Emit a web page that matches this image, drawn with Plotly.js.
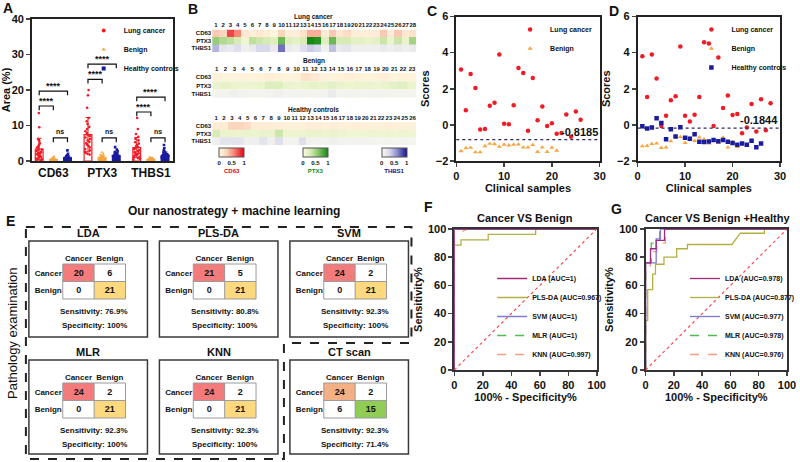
<!DOCTYPE html>
<html><head><meta charset="utf-8">
<script src="https://cdn.plot.ly/plotly-3.0.1.min.js"></script>
<style>html,body{margin:0;padding:0;background:#fff}</style>
</head><body><div id="chart" style="width:800px;height:462px"></div>
<script>
// ================= DATA =================
const markerNames = ['CD63', 'PTX3', 'THBS1'];
const groupNames = ['Lung cancer', 'Benign', 'Healthy controls'];
const lungCD63 = [13.5,9.5,6.2,5.9,5.6,5.0,4.6,4.2,3.8,3.5,3.2,3.0,2.8,2.5,2.3,2.1,1.9,1.7,1.5,1.3,1.1,0.9,0.7,0.5,0.4,0.2];
const lungPTX3 = [20.0,18.5,15.0,12.1,11.2,10.4,9.6,9.0,8.4,7.9,7.4,7.0,6.6,6.2,5.8,5.4,5.0,4.6,4.2,3.8,3.4,3.0,2.6,2.3,2.0,1.8];
const lungTHBS1 = [12.1,9.0,7.6,6.8,6.2,5.8,5.3,4.9,4.5,4.2,3.9,3.6,3.3,3.0,2.8,2.5,2.2,2.0,1.8,1.6,1.4,1.2,1.0,0.8,0.6,0.4];
const benignCD63 = [1.3,1.0,0.9,0.8,0.7,0.6,0.6,0.5,0.5,0.4,0.4,0.4,0.3,0.3,0.3,0.2,0.2,0.2,0.1,0.1,0.1];
const benignPTX3 = [2.5,2.1,1.8,1.6,1.4,1.3,1.2,1.1,1.0,0.9,0.9,0.8,0.8,0.7,0.6,0.6,0.5,0.4,0.4,0.3,0.2];
const benignTHBS1 = [1.2,1.0,0.9,0.8,0.7,0.6,0.6,0.5,0.5,0.5,0.4,0.4,0.4,0.3,0.3,0.3,0.2,0.2,0.2,0.1,0.1];
const healthyCD63 = [3.0,2.0,1.6,1.4,1.3,1.2,1.1,1.0,1.0,0.9,0.9,0.8,0.8,0.7,0.7,0.7,0.6,0.6,0.6,0.5,0.5,0.5,0.4,0.4,0.3,0.3,0.2,0.2];
const healthyPTX3 = [3.9,3.2,2.8,2.5,2.2,2.0,1.9,1.8,1.7,1.6,1.5,1.5,1.4,1.4,1.3,1.3,1.2,1.2,1.1,1.1,1.0,1.0,0.9,0.8,0.7,0.6,0.5,0.4];
const healthyTHBS1 = [4.5,3.6,3.0,2.6,2.4,2.2,2.0,1.9,1.8,1.7,1.6,1.5,1.4,1.3,1.2,1.2,1.1,1.0,1.0,0.9,0.8,0.8,0.7,0.6,0.5,0.5,0.4,0.3];
const sigLabels = ['****', '****', 'ns'];
const sigPairs = [[0, 1], [0, 2], [1, 2]];
const sigHeights = [[15.5, 19.7, 6.5], [23.0, 27.3, 6.5], [13.8, 18.0, 6.5]];

const lungHeatCD63 = [0.35,0.3,0.8,0.6,0.15,0.1,0.15,0.1,0.05,0.3,0.1,0.1,0.2,0.45,0.45,0.1,0.35,0.15,0.25,0.1,0.1,0.1,0.1,0.35,0.1,0.35,0.15,0.2];
const lungHeatPTX3 = [0.55,0.45,0.4,0.3,0.1,0.4,0.35,0.3,0.25,0.7,0.25,0.2,0.3,1.0,0.95,0.25,0.7,0.3,0.3,0.2,0.2,0.15,0.2,0.35,0.15,0.35,0.15,0.5];
const lungHeatTHBS1 = [0.45,0.2,0.15,0.25,0.1,0.15,0.3,0.3,0.15,0.7,0.15,0.1,0.25,0.35,0.3,0.1,0.4,0.15,0.2,0.1,0.1,0.1,0.1,0.15,0.1,0.15,0.1,0.15];
const benignHeatCD63 = [0.08,0.06,0.06,0.08,0.06,0.08,0.1,0.08,0.06,0.08,0.2,0.15,0.08,0.06,0.08,0.1,0.08,0.06,0.08,0.1,0.06,0.08,0.06];
const benignHeatPTX3 = [0.15,0.18,0.15,0.12,0.12,0.15,0.25,0.25,0.15,0.12,0.15,0.18,0.15,0.2,0.15,0.12,0.15,0.15,0.12,0.15,0.2,0.22,0.15];
const benignHeatTHBS1 = [0.08,0.06,0.1,0.08,0.06,0.06,0.08,0.1,0.06,0.08,0.06,0.06,0.08,0.15,0.06,0.08,0.06,0.06,0.08,0.06,0.06,0.06,0.06];
const healthyHeatCD63 = [0.12,0.12,0.3,0.3,0.25,0.1,0.12,0.1,0.1,0.08,0.08,0.08,0.1,0.1,0.08,0.1,0.08,0.08,0.1,0.08,0.08,0.08,0.1,0.08,0.08,0.08];
const healthyHeatPTX3 = [0.3,0.15,0.15,0.12,0.15,0.12,0.15,0.15,0.35,0.12,0.12,0.12,0.15,0.15,0.12,0.15,0.12,0.1,0.1,0.1,0.12,0.1,0.12,0.1,0.12,0.1];
const healthyHeatTHBS1 = [0.1,0.2,0.2,0.2,0.1,0.1,0.2,0.1,0.25,0.08,0.08,0.25,0.08,0.08,0.08,0.1,0.08,0.08,0.08,0.08,0.06,0.06,0.06,0.06,0.06,0.06];
const heatTitles = ['Lung cancer', 'Benign', 'Healthy controls'];

const cLungScores = [3.06,0.81,2.81,2.04,-0.25,-0.23,1.06,1.23,3.9,0.06,0.04,1.09,3.15,2.87,-0.32,2.6,0.25,1.02,-0.06,0.09,-0.49,-0.45,0.57,-0.66,0.74,0.28];
const cBenignScores = [-1.45,-1.28,-1.26,-1.51,-1.51,-1.17,-1.04,-1.06,-1.21,-1.09,-1.13,-1.09,-1.08,-1.25,-1.25,-1.11,-1.49,-1.25,-1.49,-1.26,-1.42];
const cThreshold = -0.8185;
const dLungScores = [3.8,1.55,3.9,2.57,-0.06,0.51,1.37,1.59,4.34,0.51,0.19,0.56,1.55,4.57,4.51,-0.06,3.73,0.94,1.63,0.54,0.6,-0.47,-0.15,1.16,-0.36,1.42,-0.3,1.2];
const dBenignScores = [-1.18,-1.16,-1.05,-1.03,-1.27,-1.24,-0.9,-0.66,-0.67,-0.99,-0.73,-0.88,-0.69,-0.8,-1.03,-0.88,-0.99,-0.71,-1.25,-0.95,-1.22];
const dHealthyScores = [-0.08,-0.2,-0.15,0.36,0.1,-0.8,-0.24,-0.64,-0.13,-0.71,-0.77,-0.52,-0.94,-0.95,-0.92,-0.84,-0.9,-0.84,-0.94,-1.01,-1.1,-1.03,-1.1,-0.88,-1.24,-1.03];
const dThreshold = -0.1844;

const models = ['LDA', 'PLS-DA', 'SVM', 'MLR', 'KNN', 'CT scan'];
const truePos = [20, 21, 24, 24, 24, 24];
const falseNeg = [6, 5, 2, 2, 2, 2];
const falsePos = [0, 0, 0, 0, 0, 6];
const trueNeg = [21, 21, 21, 21, 21, 15];
const classLabels = ['Cancer', 'Benign'];

const rocNames = ['LDA', 'PLS-DA', 'SVM', 'MLR', 'KNN'];
const fAUC = ['1', '0.967', '1', '1', '0.997'];
const gAUC = ['0.978', '0.877', '0.977', '0.978', '0.976'];
const fLDAx = [0,0,100], fLDAy = [0,100,100];
const fPLSx = [0,0,4.7,4.7,23.8,23.8,57.1,57.1,100], fPLSy = [0,88.5,88.5,92.3,92.3,96.2,96.2,100,100];
const fSVMx = [0,0,100], fSVMy = [0,100,100];
const fMLRx = [0,0,100], fMLRy = [0,100,100];
const fKNNx = [0,0,9.5,100], fKNNy = [0,96,100,100];
const gLDAx = [0,0,3.5,3.5,7.5,7.5,13.4,13.4,100], gLDAy = [0,76,76,86,86,92,92,100,100];
const gPLSx = [0,0,1.5,1.5,5,5,7,7,13,13,22,22,29.6,29.6,61,67,84,84,100], gPLSy = [0,35,35,57,57,68,68,75,75,80,80,86,86,89,89,97,97,100,100];
const gSVMx = [0,0,7.5,7.5,10.5,10.5,100], gSVMy = [0,76,76,93,93,100,100];
const gMLRx = [0,0,4,4,10,10,100], gMLRy = [0,76,76,90,90,100,100];
const gKNNx = [0,0,3.5,3.5,8,8,14,14,100], gKNNy = [0,74,74,84,84,90,90,100,100];

// ================= HELPERS / STYLE =================
const W = 800, H = 462;
const X = p => p / W;
const Y = p => 1 - p / H;
const FONT = 'Liberation Sans, Arial, Helvetica, sans-serif';
const groupColors = ['#ee1c25', '#f7a541', '#1b1b9e'];
const groupSymbols = ['circle', 'triangle-up', 'square'];
const rocColors = ['#a3287c', '#b3b043', '#7b7bd2', '#4dbb4d', '#f2a27f'];
const heatScales = [
  [[0,'#fffbe4'],[0.3,'#fcd5bd'],[0.6,'#f88676'],[1,'#e6001a']],
  [[0,'#fbfbe2'],[0.3,'#d8ebb6'],[0.6,'#8cc66c'],[1,'#148a14']],
  [[0,'#fbfbef'],[0.3,'#d8d8ec'],[0.6,'#8f8fcc'],[1,'#111190']]
];
const cbTitleColors = ['#e6001a', '#148a14', '#111190'];
const mean = a => a.reduce((s, v) => s + v, 0) / a.length;
const sdev = a => { const m = mean(a); return Math.sqrt(a.reduce((s, v) => s + (v - m) * (v - m), 0) / (a.length - 1)); };
const idx = a => a.map((_, i) => i + 1);
const label = (x, y, text, size, extra) => Object.assign({xref: 'paper', yref: 'paper', x: X(x), y: Y(y), text: text,
  xanchor: 'center', yanchor: 'middle', showarrow: false, font: {size: size, weight: 'bold'}}, extra || {});

const traces = [];
const shapes = [];
const annotations = [];
const layout = {
  width: W, height: H, margin: {l: 0, r: 0, t: 0, b: 0},
  paper_bgcolor: '#fff', plot_bgcolor: 'rgba(0,0,0,0)',
  font: {family: FONT, size: 10, color: '#111', weight: 'bold'},
  hovermode: false, showlegend: true,
  barmode: 'group', bargap: 0.13, bargroupgap: 0.45,
  boxmode: 'group', boxgap: 0.13, boxgroupgap: 0.45
};

// ================= PANEL A =================
const groupPts = [
  [lungCD63, lungPTX3, lungTHBS1],
  [benignCD63, benignPTX3, benignTHBS1],
  [healthyCD63, healthyPTX3, healthyTHBS1]
];
groupNames.forEach((g, gi) => {
  traces.push({
    type: 'bar', x: markerNames, y: groupPts[gi].map(mean), xaxis: 'x', yaxis: 'y', showlegend: false,
    marker: {color: gi === 0 ? 'rgba(255,255,255,0)' : groupColors[gi], line: {color: groupColors[gi], width: 1.2}},
    error_y: {type: 'data', array: groupPts[gi].map(sdev), color: groupColors[gi], thickness: 1, width: 2.5}
  });
});
groupNames.forEach((g, gi) => {
  traces.push({
    type: 'box', xaxis: 'x', yaxis: 'y', showlegend: false, name: g,
    x: markerNames.flatMap((m, mi) => groupPts[gi][mi].map(() => m)),
    y: groupPts[gi].flat(),
    boxpoints: 'all', jitter: 0.9, pointpos: 0, whiskerwidth: 0,
    fillcolor: 'rgba(0,0,0,0)', line: {width: 0, color: 'rgba(0,0,0,0)'},
    marker: {color: groupColors[gi], symbol: groupSymbols[gi], size: 2.6}
  });
});
groupNames.forEach((g, gi) => {
  traces.push({type: 'scatter', mode: 'markers', x: [null], y: [null], name: g, xaxis: 'x', yaxis: 'y', legend: 'legend',
    marker: {color: groupColors[gi], symbol: groupSymbols[gi], size: 4}});
});
const axLine = {showline: true, linecolor: '#222', linewidth: 1.8, mirror: true, showgrid: false, zeroline: false};
layout.xaxis = Object.assign({}, axLine, {domain: [X(32), X(174)], anchor: 'y', type: 'category', range: [-0.44, 2.46],
  ticks: '', tickfont: {size: 12, weight: 'bold'}});
layout.yaxis = Object.assign({}, axLine, {domain: [Y(161), Y(19)], anchor: 'x', range: [0, 40], dtick: 10,
  ticks: 'outside', ticklen: 4, tickwidth: 1.5, tickfont: {size: 11, weight: 'bold'},
  title: {text: 'Area (%)', font: {size: 11, weight: 'bold'}, standoff: 4}});
layout.legend = {x: X(84), y: Y(16), xanchor: 'left', yanchor: 'top', bgcolor: 'rgba(0,0,0,0)',
  font: {size: 7, weight: 'bold'}, itemwidth: 30, tracegroupgap: 0};
const slot = (1 - layout.bargap) / 3;
markerNames.forEach((m, mi) => {
  sigPairs.forEach((p, pi) => {
    const x1 = mi + (p[0] - 1) * slot, x2 = mi + (p[1] - 1) * slot, h = sigHeights[mi][pi];
    shapes.push({type: 'path', xref: 'x', yref: 'y', path: `M ${x1},${h - 1.2} L ${x1},${h} L ${x2},${h} L ${x2},${h - 1.2}`,
      line: {color: '#111', width: 1.2}});
    annotations.push({xref: 'x', yref: 'y', x: (x1 + x2) / 2, y: h, xanchor: 'center', yanchor: 'bottom', showarrow: false,
      text: sigLabels[pi], font: {size: sigLabels[pi] === 'ns' ? 7 : 9, weight: 'bold'}, yshift: sigLabels[pi] === 'ns' ? 1 : -2});
  });
});

// ================= PANEL B =================
const heatRows = [
  [lungHeatCD63, lungHeatPTX3, lungHeatTHBS1],
  [benignHeatCD63, benignHeatPTX3, benignHeatTHBS1],
  [healthyHeatCD63, healthyHeatPTX3, healthyHeatTHBS1]
];
const heatTop = [29.5, 73, 122], heatBot = [52, 98, 145];
const cbLeft = [220, 304, 383];
heatRows.forEach((rows, si) => {
  const ax = si + 2;
  rows.forEach((vals, ri) => {
    const t = {type: 'heatmap', x: idx(vals), y: [ri], z: [vals], zmin: 0, zmax: 1,
      colorscale: heatScales[ri], xaxis: 'x' + ax, yaxis: 'y' + ax, showscale: si === 0, showlegend: false};
    if (si === 0) {
      t.colorbar = {orientation: 'h', x: X(cbLeft[ri]), xanchor: 'left', y: Y(148), yanchor: 'top',
        len: 25, lenmode: 'pixels', thickness: 9, thicknessmode: 'pixels', xpad: 0, ypad: 0,
        outlinewidth: 1, outlinecolor: '#555', tickvals: [0, 0.5, 1], ticktext: ['0', '0.5', '1'], ticks: '',
        tickfont: {size: 6, weight: 'bold'},
        title: {text: markerNames[ri], side: 'bottom', font: {size: 6, color: cbTitleColors[ri], weight: 'bold'}}};
    }
    traces.push(t);
  });
  const n = rows[0].length;
  layout['xaxis' + ax] = {domain: [X(213), X(418)], anchor: 'y' + ax, side: 'top', range: [0.5, n + 0.5],
    tickmode: 'array', tickvals: idx(rows[0]), ticks: '', tickangle: 0, showgrid: false, zeroline: false,
    tickfont: {size: 6, weight: 'bold'}};
  layout['yaxis' + ax] = {domain: [Y(heatBot[si]), Y(heatTop[si])], anchor: 'x' + ax, range: [2.5, -0.5],
    tickmode: 'array', tickvals: [0, 1, 2], ticktext: markerNames, ticks: '', showgrid: false, zeroline: false,
    tickfont: {size: 6, weight: 'bold'}};
  annotations.push(label(315, heatTop[si] - 12, heatTitles[si], 6.5));
});

// ================= PANEL C & D =================
const scoreAxis = (dom, anchor) => Object.assign({}, axLine, {domain: dom, anchor: anchor,
  ticks: 'outside', ticklen: 4, tickwidth: 1.5, tickfont: {size: 11, weight: 'bold'}});
traces.push({type: 'scatter', mode: 'markers', x: idx(cLungScores), y: cLungScores, name: 'Lung cancer', xaxis: 'x5', yaxis: 'y5',
  legend: 'legend2', marker: {color: groupColors[0], symbol: 'circle', size: 4.5}});
traces.push({type: 'scatter', mode: 'markers', x: idx(cBenignScores), y: cBenignScores, name: 'Benign', xaxis: 'x5', yaxis: 'y5',
  legend: 'legend2', marker: {color: groupColors[1], symbol: 'triangle-up', size: 4.5}});
layout.xaxis5 = Object.assign(scoreAxis([X(458), X(602)], 'y5'), {range: [0, 30], dtick: 10,
  title: {text: 'Clinical samples', font: {size: 11, weight: 'bold'}, standoff: 2}});
layout.yaxis5 = Object.assign(scoreAxis([Y(161), Y(16.5)], 'x5'), {range: [-2, 6], dtick: 2,
  title: {text: 'Scores', font: {size: 11, weight: 'bold'}, standoff: 4}});
traces.push({type: 'scatter', mode: 'markers', x: idx(dLungScores), y: dLungScores, name: 'Lung cancer', xaxis: 'x6', yaxis: 'y6',
  legend: 'legend3', marker: {color: groupColors[0], symbol: 'circle', size: 4.5}});
traces.push({type: 'scatter', mode: 'markers', x: idx(dBenignScores), y: dBenignScores, name: 'Benign', xaxis: 'x6', yaxis: 'y6',
  legend: 'legend3', marker: {color: groupColors[1], symbol: 'triangle-up', size: 4.5}});
traces.push({type: 'scatter', mode: 'markers', x: idx(dHealthyScores), y: dHealthyScores, name: 'Healthy controls', xaxis: 'x6', yaxis: 'y6',
  legend: 'legend3', marker: {color: groupColors[2], symbol: 'square', size: 4.5}});
layout.xaxis6 = Object.assign(scoreAxis([X(640), X(783)], 'y6'), {range: [0, 30], dtick: 10,
  title: {text: 'Clinical samples', font: {size: 11, weight: 'bold'}, standoff: 2}});
layout.yaxis6 = Object.assign(scoreAxis([Y(161), Y(16.5)], 'x6'), {range: [-2, 6], dtick: 2,
  title: {text: 'Scores', font: {size: 11, weight: 'bold'}, standoff: 4}});
[[cThreshold, 5], [dThreshold, 6]].forEach(([thr, k]) => {
  shapes.push({type: 'line', xref: 'x' + k + ' domain', yref: 'y' + k, x0: 0, x1: 1, y0: thr, y1: thr,
    line: {color: '#2a2a66', width: 1.2, dash: 'dot'}});
  annotations.push({xref: 'x' + k + ' domain', yref: 'y' + k, x: 1, y: thr, xanchor: 'right', yanchor: 'bottom',
    text: String(thr), showarrow: false, font: {size: 11, weight: 'bold'}, yshift: 0});
});
const smallLegend = (x, y, ya) => ({x: X(x), y: Y(y), xanchor: 'left', yanchor: ya, bgcolor: 'rgba(0,0,0,0)',
  font: {size: 7, weight: 'bold'}, itemwidth: 30, tracegroupgap: 0});
layout.legend2 = smallLegend(512, 15, 'top');
layout.legend3 = smallLegend(694, 15, 'top');

// ================= PANEL E =================
const gridLeft = [63, 194, 325], gridTop = [264, 383], gridW = 63, gridH = 35;
const boxLeft = [29, 160, 291], boxTop = [241, 360], boxW = 119, boxH = [96, 94];
const cellScale = [[0,'#ffffff'],[0.125,'#ffffff'],[0.125,'#f47b7b'],[0.375,'#f47b7b'],[0.375,'#fcd87e'],[0.625,'#fcd87e'],
  [0.625,'#f4b084'],[0.875,'#f4b084'],[0.875,'#8fcd55'],[1,'#8fcd55']];
models.forEach((m, k) => {
  const r = Math.floor(k / 3), c = k % 3, ax = 7 + k;
  const isCT = m === 'CT scan';
  traces.push({type: 'heatmap', x: classLabels, y: classLabels,
    z: [[isCT ? 3 : 1, 0], [0, isCT ? 4 : 2]], zmin: 0, zmax: 4, colorscale: cellScale, showscale: false,
    text: [[truePos[k], falseNeg[k]], [falsePos[k], trueNeg[k]]], texttemplate: '%{text}',
    textfont: {size: 9, color: '#111', weight: 'bold'}, xaxis: 'x' + ax, yaxis: 'y' + ax, showlegend: false});
  layout['xaxis' + ax] = {domain: [X(gridLeft[c]), X(gridLeft[c] + gridW)], anchor: 'y' + ax, side: 'top', type: 'category',
    ticks: '', tickangle: 0, showgrid: false, zeroline: false, tickfont: {size: 8, weight: 'bold'}};
  layout['yaxis' + ax] = {domain: [Y(gridTop[r] + gridH), Y(gridTop[r])], anchor: 'x' + ax, type: 'category',
    autorange: 'reversed', ticks: '', showgrid: false, zeroline: false, tickfont: {size: 8, weight: 'bold'}};
  const ln = {color: '#9a9a9a', width: 1};
  shapes.push({type: 'rect', xref: 'x' + ax + ' domain', yref: 'y' + ax + ' domain', x0: 0, x1: 1, y0: 0, y1: 1, line: ln});
  shapes.push({type: 'line', xref: 'x' + ax + ' domain', yref: 'y' + ax + ' domain', x0: 0.5, x1: 0.5, y0: 0, y1: 1, line: ln});
  shapes.push({type: 'line', xref: 'x' + ax + ' domain', yref: 'y' + ax + ' domain', x0: 0, x1: 1, y0: 0.5, y1: 0.5, line: ln});
  shapes.push({type: 'rect', xref: 'paper', yref: 'paper', x0: X(boxLeft[c]), x1: X(boxLeft[c] + boxW),
    y0: Y(boxTop[r] + boxH[r]), y1: Y(boxTop[r]), line: {color: '#3a3a3a', width: 1.5}});
  annotations.push(label(boxLeft[c] + boxW / 2, boxTop[r] - 8, m, 11));
  const sens = (100 * truePos[k] / (truePos[k] + falseNeg[k])).toFixed(1) + '%';
  const specV = 100 * trueNeg[k] / (trueNeg[k] + falsePos[k]);
  const spec = (specV === 100 ? '100' : specV.toFixed(1)) + '%';
  annotations.push(label(gridLeft[c] + gridW / 2, gridTop[r] + 47, 'Sensitivity: ' + sens, 8));
  annotations.push(label(gridLeft[c] + gridW / 2, gridTop[r] + 61, 'Specificity: ' + spec, 8));
});
shapes.push({type: 'path', xref: 'paper', yref: 'paper',
  path: `M ${X(26)},${Y(227)} L ${X(413)},${Y(227)} L ${X(413)},${Y(343)} L ${X(285)},${Y(343)} L ${X(285)},${Y(459)} L ${X(26)},${Y(459)} Z`,
  line: {color: '#222', width: 2, dash: 'dash'}});
annotations.push(label(235, 211, 'Our nanostrategy + machine learning', 12));
annotations.push(label(12, 333, 'Pathology examination', 13, {textangle: -90, font: {size: 13, weight: 'normal'}}));

// ================= PANEL F & G =================
const rocF = [[fLDAx, fLDAy], [fPLSx, fPLSy], [fSVMx, fSVMy], [fMLRx, fMLRy], [fKNNx, fKNNy]];
const rocG = [[gLDAx, gLDAy], [gPLSx, gPLSy], [gSVMx, gSVMy], [gMLRx, gMLRy], [gKNNx, gKNNy]];
const drawOrder = [4, 3, 1, 2, 0];
[[rocF, fAUC, 13, 'legend4'], [rocG, gAUC, 14, 'legend5']].forEach(([curves, auc, k, lg]) => {
  shapes.push({type: 'line', xref: 'x' + k, yref: 'y' + k, x0: 0, y0: 0, x1: 100, y1: 100,
    line: {color: '#ff4a4a', width: 1.2, dash: 'dot'}});
  drawOrder.forEach(i => {
    traces.push({type: 'scatter', mode: 'lines', x: curves[i][0], y: curves[i][1],
      name: rocNames[i] + ' (AUC=' + auc[i] + ')', legendrank: i + 1, legend: lg,
      line: {color: rocColors[i], width: 1.3, dash: i >= 3 ? 'dash' : 'solid'},
      xaxis: 'x' + k, yaxis: 'y' + k});
  });
});
const rocAxis = (dom, anchor, t) => Object.assign({}, axLine, {domain: dom, anchor: anchor, range: [0, 100], dtick: 20,
  linecolor: '#333', ticks: 'outside', ticklen: 4, tickwidth: 1.5, tickfont: {size: 11, weight: 'bold'},
  title: {text: t, font: {size: 11, weight: 'bold'}, standoff: 3}});
layout.xaxis13 = rocAxis([X(456), X(599)], 'y13', '100% - Specificity%');
layout.yaxis13 = rocAxis([Y(370), Y(229)], 'x13', 'Sensitivity%');
layout.xaxis14 = rocAxis([X(648), X(790)], 'y14', '100% - Specificity%');
layout.yaxis14 = rocAxis([Y(370), Y(229)], 'x14', 'Sensitivity%');
layout.legend4 = smallLegend(494, 369, 'bottom');
layout.legend5 = smallLegend(688, 369, 'bottom');
annotations.push(label(527, 218, 'Cancer VS Benign', 11));
annotations.push(label(720, 218, 'Cancer VS Benign +Healthy', 11));

[['A', 1, 8], ['B', 187, 9], ['C', 427, 11], ['D', 609, 11], ['E', 4, 221], ['F', 424, 207], ['G', 611, 209]].forEach(([t, x, y]) => {
  annotations.push(label(x, y, t, 14, {xanchor: 'left'}));
});

layout.shapes = shapes;
layout.annotations = annotations;
try {
  Plotly.newPlot('chart', traces, layout, {displayModeBar: false, staticPlot: true});
} catch (e) {
  traces.forEach(t => { if (t.colorbar && t.colorbar.title) delete t.colorbar.title.side; });
  Plotly.newPlot('chart', traces, layout, {displayModeBar: false, staticPlot: true});
}
</script>
</body></html>
